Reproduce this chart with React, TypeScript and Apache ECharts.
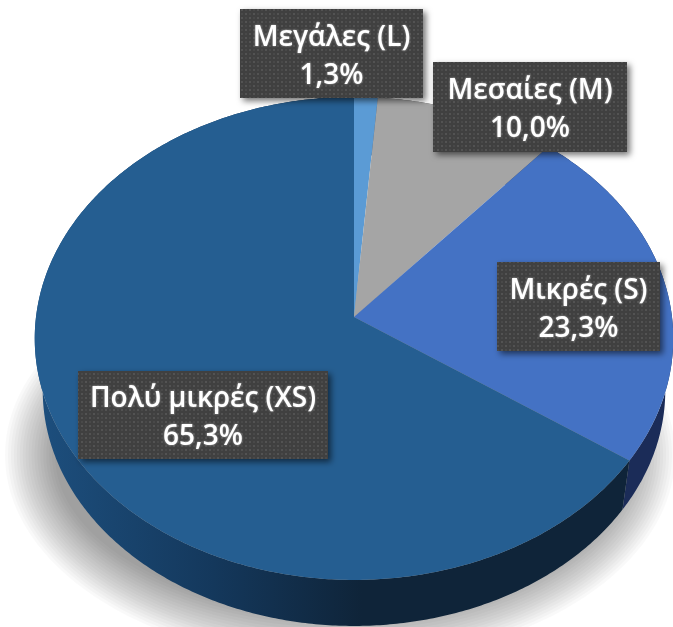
import React, { useEffect, useRef } from "react";
import * as echarts from "echarts";

const categories = ["Μεγάλες (L)", "Μεσαίες (M)", "Μικρές (S)", "Πολύ μικρές (XS)"];
const shares = [1.3, 10.0, 23.3, 65.3];
const topColors = ["#5b9bd5", "#a5a5a5", "#4472c4", "#255e91"];
const wallColors = ["#2f5f8f", "#555555", "#1b2c58", "#0f2439"];

// label box: left, top, right, bottom
const labelBoxes = [
  [240, 9, 423, 98],
  [433, 62, 627, 152],
  [497, 262, 660, 351],
  [78, 371, 328, 459],
];

const APEX_X = 354;
const APEX_Y = 317;
const RX = 318;
const RY = 239.6;
const PERSP = -0.0887;
const DEPTH = 52.6;
const SHRINK = 0.975;

function rim(theta: number, lower: boolean): number[] {
  const u = Math.sin(theta);
  const v = -Math.cos(theta);
  const w = 1 + PERSP * v;
  const x = (RX * u) / w;
  const y = (RY * v) / w;
  return lower
    ? [APEX_X + x * SHRINK, APEX_Y + DEPTH + y * SHRINK]
    : [APEX_X + x, APEX_Y + y];
}

function arcPoints(a: number, b: number, lower: boolean): number[][] {
  const n = Math.max(2, Math.ceil(Math.abs(b - a) / 0.01));
  const pts: number[][] = [];
  for (let i = 0; i <= n; i++) pts.push(rim(a + ((b - a) * i) / n, lower));
  return pts;
}

function dotPattern(): any {
  const c = document.createElement("canvas");
  c.width = 8;
  c.height = 8;
  const g = c.getContext("2d")!;
  g.fillStyle = "#404040";
  g.fillRect(0, 0, 8, 8);
  g.fillStyle = "#525252";
  g.fillRect(1, 1, 2, 2);
  g.fillRect(5, 5, 2, 2);
  g.fillStyle = "#4a4a4a";
  g.fillRect(5, 1, 2, 2);
  g.fillRect(1, 5, 2, 2);
  return { image: c, repeat: "repeat", imageWidth: 8, imageHeight: 8 };
}

// soft floor shadow, built from stacked translucent ellipses
function shadowLayers(): any[] {
  const layers: any[] = [];
  const steps = 18;
  for (let k = 0; k < steps; k++) {
    const f = k / (steps - 1);
    const grow = 50 * (1 - f);
    layers.push({
      type: "ellipse",
      z2: k,
      shape: { cx: 340, cy: 455, rx: 285 + grow, ry: 158 + grow },
      style: { fill: "#000000", opacity: 0.025 },
    });
  }
  return layers;
}

export default function App() {
  const ref = useRef<HTMLDivElement>(null);
  useEffect(() => {
    document.body.style.margin = "0";
    const chart = echarts.init(ref.current!, null, { renderer: "svg" });
    const total = shares.reduce((a, b) => a + b, 0);
    const starts: number[] = [];
    shares.reduce((acc, s, i) => ((starts[i] = acc), acc + s), 0);
    const pattern = dotPattern();

    chart.setOption({
      animation: false,
      backgroundColor: "#ffffff",
      series: [
        {
          type: "custom",
          coordinateSystem: "none",
          z: 1,
          silent: true,
          data: [[1]],
          renderItem: () => ({ type: "group", children: shadowLayers() }),
        },
        {
          type: "custom",
          coordinateSystem: "none",
          z: 2,
          silent: true,
          data: shares.map((v, i) => ({ name: categories[i], value: [v] })),
          renderItem: (params: any, api: any) => {
            const i = params.dataIndex;
            const v = api.value(0);
            const a = (starts[i] / total) * Math.PI * 2;
            const b = ((starts[i] + v) / total) * Math.PI * 2;
            const top = [[APEX_X, APEX_Y], ...arcPoints(a, b, false)];
            const wall = [...arcPoints(a, b, false), ...arcPoints(b, a, true)];
            const wallFill =
              i === 3
                ? new echarts.graphic.LinearGradient(0, 0, 1, 0, [
                    { offset: 0, color: "#1d4f7e" },
                    { offset: 0.3, color: "#14385c" },
                    { offset: 0.55, color: "#0f2439" },
                    { offset: 1, color: "#0f2439" },
                  ])
                : wallColors[i];
            const [l, t, r, btm] = labelBoxes[i];
            return {
              type: "group",
              children: [
                { type: "polygon", z2: 1, shape: { points: wall }, style: { fill: wallFill } },
                { type: "polygon", z2: 2, shape: { points: top }, style: { fill: topColors[i] } },
                {
                  type: "rect",
                  z2: 10,
                  shape: { x: l, y: t, width: r - l, height: btm - t },
                  style: {
                    fill: pattern,
                    shadowBlur: 6,
                    shadowOffsetX: 3,
                    shadowOffsetY: 3,
                    shadowColor: "rgba(0,0,0,0.55)",
                  },
                },
                {
                  type: "text",
                  z2: 11,
                  x: (l + r) / 2,
                  y: (t + btm) / 2,
                  style: {
                    text: `${categories[i]}\n${v.toFixed(1).replace(".", ",")}%`,
                    fill: "#ffffff",
                    font: '600 28px "Open Sans"',
                    lineHeight: 38,
                    align: "center",
                    verticalAlign: "middle",
                    textShadowBlur: 2,
                    textShadowColor: "rgba(255,255,255,0.5)",
                  },
                },
              ],
            };
          },
        },
      ],
    });
    return () => chart.dispose();
  }, []);
  return <div ref={ref} style={{ width: 673, height: 627 }} />;
}
